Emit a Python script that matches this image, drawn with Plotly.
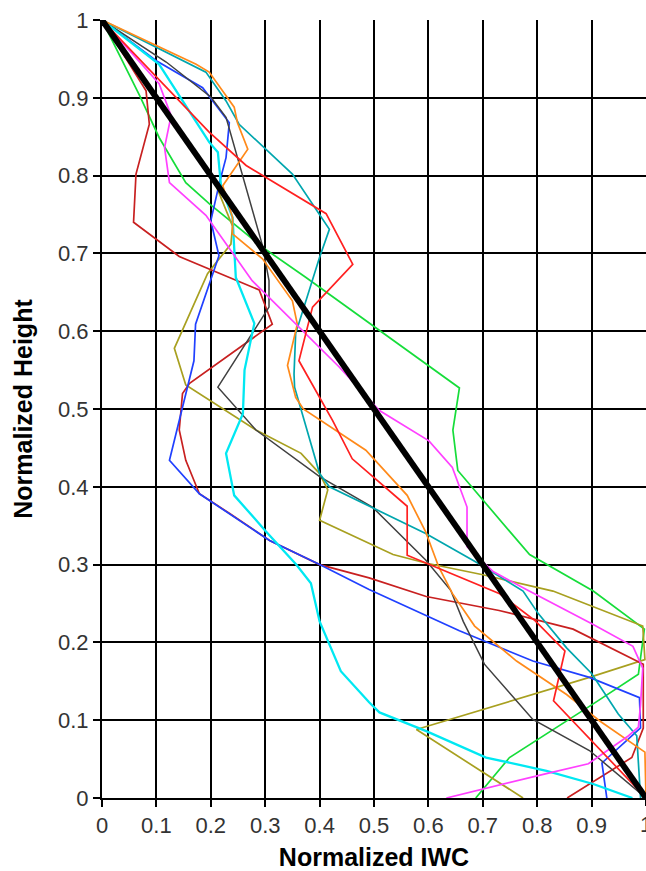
import plotly.graph_objects as go

# ---------------- data (normalized IWC vs normalized height) ----------------
red_x = [0, 0.197, 0.265, 0.412, 0.461, 0.387, 0.362, 0.424, 0.460, 0.561, 0.561, 0.595, 0.730, 0.796, 0.851, 0.830, 1.0]
red_y = [1, 0.856, 0.813, 0.751, 0.686, 0.631, 0.562, 0.485, 0.436, 0.375, 0.312, 0.302, 0.263, 0.228, 0.189, 0.125, 0.0]

darkred_x = [0, 0.081, 0.087, 0.0625, 0.058, 0.142, 0.289, 0.313, 0.161, 0.148, 0.142, 0.154, 0.179, 0.234, 0.308, 0.4, 0.491, 0.596, 0.73, 0.866, 0.995, 0.995, 0.974, 0.925, 0.855]
darkred_y = [1, 0.909, 0.866, 0.802, 0.74, 0.696, 0.653, 0.609, 0.533, 0.52, 0.473, 0.434, 0.391, 0.366, 0.331, 0.3, 0.283, 0.259, 0.241, 0.217, 0.172, 0.09, 0.052, 0.031, 0.0]

blue_x = [0, 0.099, 0.185, 0.234, 0.228, 0.216, 0.2, 0.215, 0.172, 0.169, 0.124, 0.179, 0.308, 0.4, 0.491, 0.596, 0.657, 0.792, 0.896, 0.988, 0.99, 0.919, 0.928]
blue_y = [1, 0.948, 0.913, 0.868, 0.823, 0.791, 0.742, 0.697, 0.609, 0.562, 0.434, 0.391, 0.331, 0.3, 0.268, 0.234, 0.215, 0.176, 0.155, 0.129, 0.09, 0.045, 0.0]

cyan_x = [0, 0.105, 0.197, 0.213, 0.219, 0.240, 0.246, 0.280, 0.262, 0.259, 0.228, 0.243, 0.301, 0.357, 0.384, 0.4, 0.439, 0.491, 0.510, 0.596, 0.706, 0.817, 0.903, 0.975]
cyan_y = [1, 0.943, 0.843, 0.83, 0.785, 0.746, 0.669, 0.61, 0.55, 0.494, 0.443, 0.389, 0.343, 0.3, 0.276, 0.227, 0.163, 0.123, 0.110, 0.086, 0.052, 0.035, 0.018, 0.0]

teal_x = [0, 0.191, 0.228, 0.252, 0.350, 0.418, 0.4, 0.356, 0.353, 0.354, 0.4, 0.418, 0.595, 0.693, 0.774, 0.802, 0.854, 0.9, 0.949, 0.983, 0.99]
teal_y = [1, 0.933, 0.896, 0.866, 0.802, 0.731, 0.695, 0.597, 0.545, 0.528, 0.417, 0.4, 0.34, 0.301, 0.266, 0.237, 0.193, 0.16, 0.108, 0.08, 0.0]

orange_x = [0, 0.173, 0.197, 0.243, 0.249, 0.268, 0.222, 0.240, 0.240, 0.295, 0.35, 0.359, 0.341, 0.356, 0.37, 0.485, 0.561, 0.595, 0.619, 0.644, 0.685, 0.762, 0.854, 0.915, 0.998, 1.0]
orange_y = [1, 0.943, 0.933, 0.888, 0.868, 0.834, 0.787, 0.746, 0.725, 0.693, 0.639, 0.609, 0.556, 0.515, 0.50, 0.447, 0.389, 0.342, 0.297, 0.263, 0.221, 0.176, 0.133, 0.099, 0.059, 0.0]

olive_x = [0, 0.205, 0.24, 0.237, 0.213, 0.194, 0.133, 0.154, 0.283, 0.366, 0.4, 0.415, 0.4, 0.473, 0.535, 0.595, 0.70, 0.829, 0.994, 0.998, 0.896, 0.578, 0.774]
olive_y = [1, 0.795, 0.735, 0.712, 0.691, 0.674, 0.578, 0.531, 0.473, 0.443, 0.417, 0.396, 0.357, 0.333, 0.313, 0.302, 0.287, 0.266, 0.221, 0.178, 0.155, 0.088, 0.0]

gray_x = [0, 0.118, 0.2, 0.228, 0.295, 0.307, 0.307, 0.213, 0.283, 0.4, 0.497, 0.595, 0.641, 0.664, 0.703, 0.792, 0.896, 1.0]
gray_y = [1, 0.946, 0.901, 0.875, 0.71, 0.665, 0.631, 0.528, 0.473, 0.413, 0.374, 0.306, 0.267, 0.227, 0.172, 0.101, 0.061, 0.0]

green_x = [0, 0.069, 0.105, 0.154, 0.197, 0.295, 0.375, 0.473, 0.657, 0.645, 0.654, 0.749, 0.786, 0.903, 0.997, 0.986, 0.903, 0.749, 0.687]
green_y = [1, 0.903, 0.849, 0.791, 0.764, 0.708, 0.669, 0.62, 0.527, 0.473, 0.421, 0.343, 0.313, 0.266, 0.217, 0.159, 0.121, 0.052, 0.0]

magenta_x = [0, 0.105, 0.127, 0.115, 0.124, 0.191, 0.276, 0.436, 0.510, 0.601, 0.644, 0.671, 0.671, 0.719, 0.780, 0.903, 0.976, 0.994, 0.99, 0.986, 0.968, 0.894, 0.815, 0.633]
magenta_y = [1, 0.918, 0.877, 0.836, 0.791, 0.749, 0.665, 0.554, 0.498, 0.459, 0.425, 0.374, 0.323, 0.291, 0.268, 0.223, 0.195, 0.167, 0.12, 0.091, 0.08, 0.044, 0.031, 0.0]

ref_x = [0, 1]
ref_y = [1, 0]

# gridded ticks (0 .. 0.9) and the final edge tick (1)
grid_vals = [0, 0.1, 0.2, 0.3, 0.4, 0.5, 0.6, 0.7, 0.8, 0.9]
grid_text = ["0", "0.1", "0.2", "0.3", "0.4", "0.5", "0.6", "0.7", "0.8", "0.9"]
edge_vals = [1]
edge_text = ["1"]
y_vals = [0, 0.1, 0.2, 0.3, 0.4, 0.5, 0.6, 0.7, 0.8, 0.9, 1]
y_text = ["0", "0.1", "0.2", "0.3", "0.4", "0.5", "0.6", "0.7", "0.8", "0.9", "1"]

series = [
    (green_x, green_y, "#16DD3A", 1.7),
    (olive_x, olive_y, "#A8A020", 1.7),
    (darkred_x, darkred_y, "#C82020", 1.7),
    (blue_x, blue_y, "#2040FF", 1.7),
    (gray_x, gray_y, "#404040", 1.5),
    (cyan_x, cyan_y, "#00E8F2", 2.3),
    (teal_x, teal_y, "#00A6AE", 1.7),
    (orange_x, orange_y, "#FF8A1A", 1.7),
    (magenta_x, magenta_y, "#FF40FF", 1.7),
    (red_x, red_y, "#FF2020", 1.7),
]

fig = go.Figure()
for xs, ys, col, w in series:
    fig.add_trace(go.Scatter(x=xs, y=ys, mode="lines",
                             line=dict(color=col, width=w),
                             showlegend=False, hoverinfo="skip"))
# thick reference line, drawn on the overlaid x3 axis (same range/domain)
fig.add_trace(go.Scatter(x=ref_x, y=ref_y, mode="lines", xaxis="x3", yaxis="y",
                         line=dict(color="black", width=6),
                         showlegend=False, hoverinfo="skip"))

font_family = "Liberation Sans, Arial, sans-serif"
tick_font = dict(family=font_family, size=22, color="#333333")
title_font = dict(family=font_family, size=25, color="black", weight="bold")

axis_common = dict(
    range=[0, 1],
    tickmode="array",
    showgrid=True,
    gridcolor="black",
    gridwidth=2,
    zeroline=False,
    showline=True,
    linecolor="black",
    linewidth=2,
    ticks="outside",
    ticklen=7,
    tickwidth=2,
    tickcolor="black",
    tickfont=tick_font,
    automargin=False,
)

fig.update_layout(
    width=646,
    height=871,
    margin=dict(l=102, r=0, t=20, b=73),
    paper_bgcolor="white",
    plot_bgcolor="white",
    xaxis=dict(axis_common, tickvals=grid_vals, ticktext=grid_text,
               title=dict(text="Normalized IWC", font=title_font, standoff=12)),
    yaxis=dict(axis_common, tickvals=y_vals, ticktext=y_text,
               title=dict(text="Normalized Height", font=title_font, standoff=18)),
    xaxis2=dict(overlaying="x", side="top", range=[0, 1], showline=True,
                linecolor="#9a9a9a", linewidth=1, showgrid=False,
                showticklabels=False, ticks="", zeroline=False),
    xaxis3=dict(overlaying="x", anchor="y", side="bottom", range=[0, 1],
                tickmode="array", tickvals=edge_vals, ticktext=edge_text,
                showgrid=False, zeroline=False, showline=False,
                ticks="outside", ticklen=7, tickwidth=2, tickcolor="black",
                tickfont=tick_font, ticklabeloverflow="allow",
                automargin=False),
)

fig.write_html("out.html", config={"displayModeBar": False})
